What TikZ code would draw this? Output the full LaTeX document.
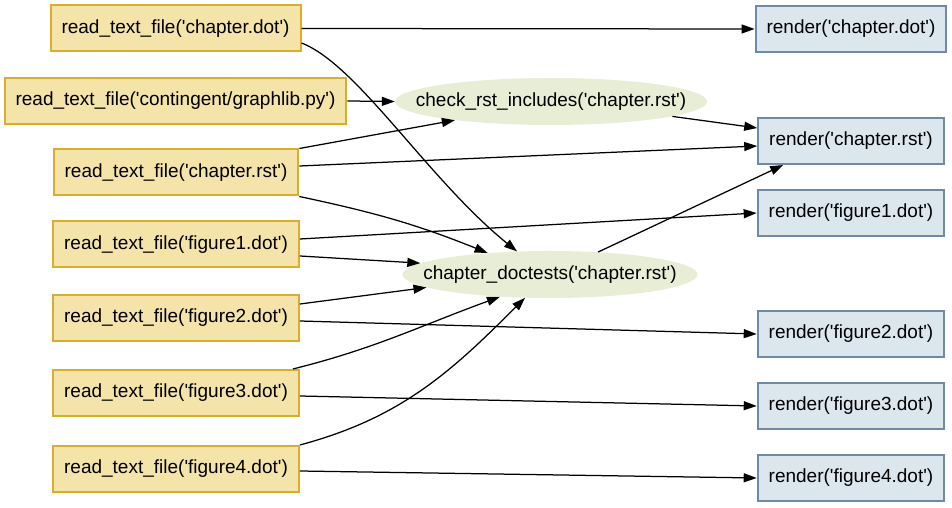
\documentclass[tikz,border=0pt]{standalone}
\usepackage{fontspec}
\setmainfont{Liberation Sans}[Ligatures=TeXOff]
\usepackage{tikz}
\usetikzlibrary{arrows.meta, shapes.geometric}

\definecolor{readfill}{HTML}{F4E4AA}
\definecolor{readline}{HTML}{DAAE2C}
\definecolor{renderfill}{HTML}{DCE7ED}
\definecolor{renderline}{HTML}{6E8AA8}
\definecolor{taskfill}{HTML}{E8EED6}

\begin{document}
\begin{tikzpicture}[x=1pt, y=1pt, font=\fontsize{19}{22}\selectfont,
		readbox/.style = {draw=readline, fill=readfill, line width=2pt, inner xsep=11pt, minimum height=46pt},
		renderbox/.style = {draw=renderline, fill=renderfill, line width=2pt, inner xsep=11pt, minimum height=46pt},
		task/.style = {ellipse, fill=taskfill, inner xsep=-30pt, inner ysep=0pt, minimum height=47pt},
		link/.style = {line width=1.25pt, -{Stealth[inset=0pt, length=13pt, width=9pt]}}]
			\useasboundingbox (0,0) rectangle (952,508);
			
			\node [readbox] (readdot) at (175.5,479.5) {read\_text\_file('chapter.dot')};
			\node [readbox] (readpy) at (175.5,407) {read\_text\_file('contingent/graphlib.py')};
			\node [readbox] (readrst) at (176,335.5) {read\_text\_file('chapter.rst')};
			\node [readbox] (readfig1) at (176,263.5) {read\_text\_file('figure1.dot')};
			\node [readbox] (readfig2) at (176,190) {read\_text\_file('figure2.dot')};
			\node [readbox] (readfig3) at (176,115) {read\_text\_file('figure3.dot')};
			\node [readbox] (readfig4) at (176,39) {read\_text\_file('figure4.dot')};
			
			\node [task, minimum width=312pt] (checkrst) at (551,406.5) {check\_rst\_includes('chapter.rst')};
			\node [task, minimum width=295pt] (doctests) at (550,233.5) {chapter\_doctests('chapter.rst')};
			
			\node [renderbox] (renderdot) at (851,479) {render('chapter.dot')};
			\node [renderbox] (renderrst) at (851,367) {render('chapter.rst')};
			\node [renderbox] (renderfig1) at (851,295) {render('figure1.dot')};
			\node [renderbox] (renderfig2) at (851,174) {render('figure2.dot')};
			\node [renderbox] (renderfig3) at (851,102) {render('figure3.dot')};
			\node [renderbox] (renderfig4) at (851,30) {render('figure4.dot')};
			
			\begin{scope}[link]
			\draw (readdot.east) -- (renderdot.west);
			\draw ([yshift=-14.5pt]readdot.east) to [out=-21, in=141, out distance=60pt, in distance=115pt] (doctests.145);
			\draw (readpy.east) -- (checkrst.west);
			\draw (readrst.north east) -- (checkrst.191);
			\draw ([yshift=6.5pt]readrst.east) -- ([yshift=-5pt]renderrst.west);
			\draw (readrst.south east) to [out=-12, in=158] (doctests.161);
			\draw (checkrst.353) -- ([yshift=13pt]renderrst.west);
			\draw (doctests.25) -- ([xshift=26pt]renderrst.south west);
			\draw ([yshift=5.5pt]readfig1.east) -- (renderfig1.west);
			\draw ([yshift=-11.5pt]readfig1.east) -- (doctests.175);
			\draw ([yshift=14pt]readfig2.east) -- (doctests.186);
			\draw ([yshift=-3pt]readfig2.east) -- (renderfig2.west);
			\draw ([xshift=-7pt]readfig3.north east) to [out=14, in=200] (doctests.204);
			\draw ([yshift=-3pt]readfig3.east) -- (renderfig3.west);
			\draw (readfig4.north east) to [out=15, in=225] (doctests.223);
			\draw ([yshift=-2pt]readfig4.east) -- (renderfig4.west);
			\end{scope}
		\end{tikzpicture}
\end{document}
